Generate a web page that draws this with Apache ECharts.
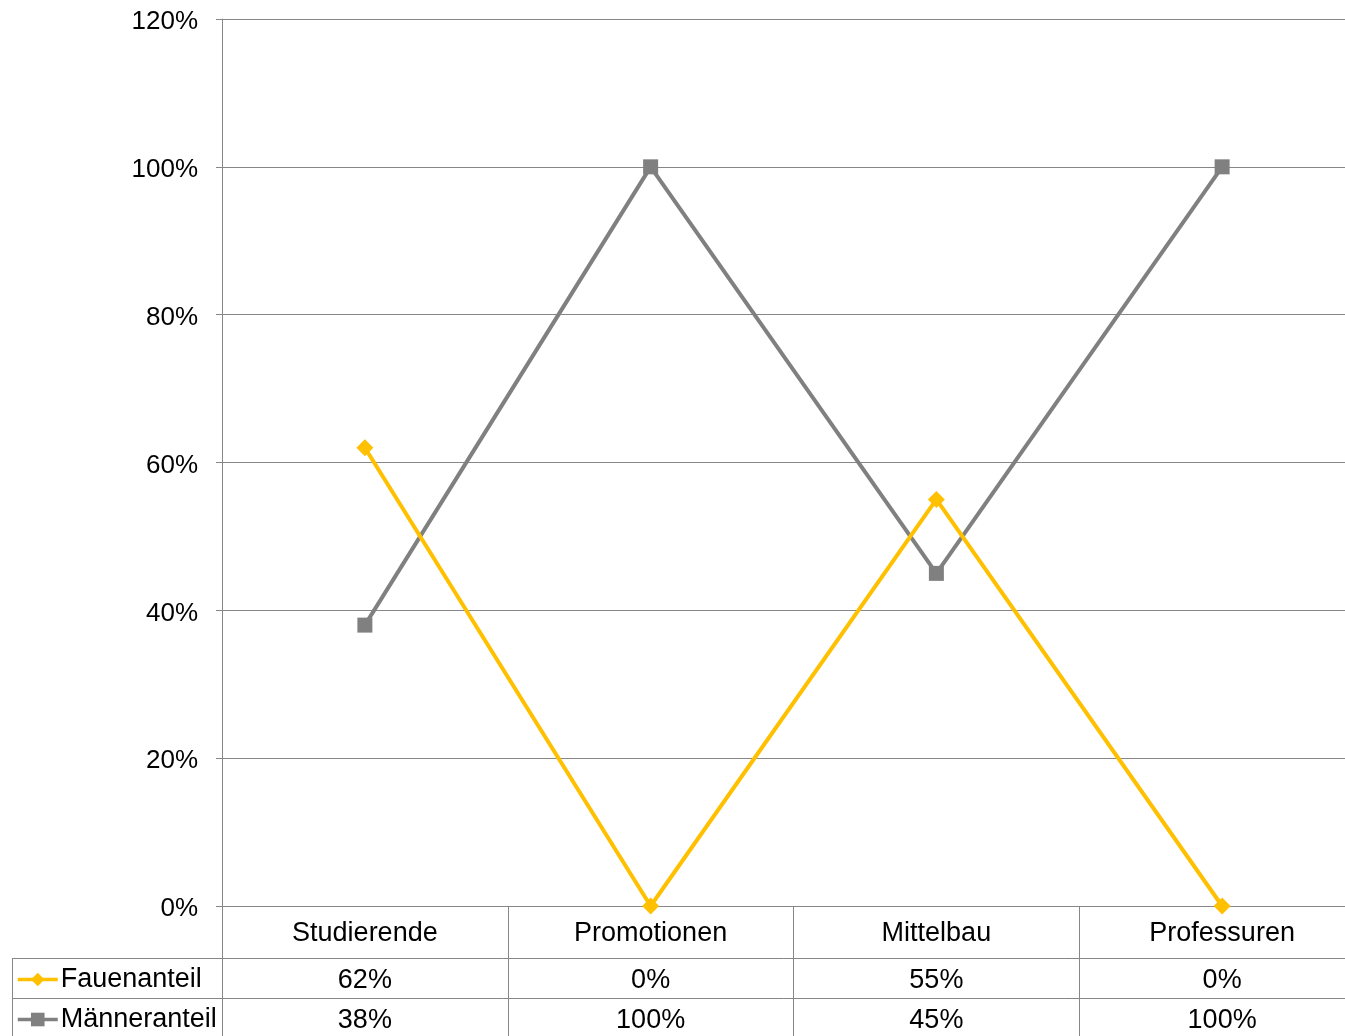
<!DOCTYPE html>
<html>
<head>
<meta charset="utf-8">
<script src="https://cdn.jsdelivr.net/npm/echarts@6/dist/echarts.min.js"></script>
<style>
  html, body { margin: 0; padding: 0; background: #fff; }
  #chart { width: 1345px; height: 1036px; }
</style>
</head>
<body>
<div id="chart"></div>
<script>
// Kategorien und Anteile (in Prozent)
const categories = ['Studierende', 'Promotionen', 'Mittelbau', 'Professuren'];
const frauenAnteil = [62, 0, 55, 0];
const maennerAnteil = [38, 100, 45, 100];
const seriesNames = ['Fauenanteil', 'Männeranteil'];
const yTicks = [0, 20, 40, 60, 80, 100, 120];

const FONT = '"Liberation Sans", Arial, sans-serif';
const GRID_COLOR = '#878787';
const YELLOW = '#FFC000';
const GRAY = '#808080';
const TABLE_FONT_SIZE = 27;

const pct = v => v + '%';

const chart = echarts.init(document.getElementById('chart'), null, { renderer: 'canvas' });

// gemeinsame Einstellungen der beiden Legendenzeilen in der Tabelle
const legendBase = {
  orient: 'horizontal',
  left: 16,
  padding: 0,
  itemWidth: 40,
  itemHeight: 17,
  selectedMode: false,
  lineStyle: { width: 3.5 },
  textStyle: { fontFamily: FONT, fontSize: TABLE_FONT_SIZE, color: '#000', padding: [0, 0, 0, -2] }
};

const option = {
  animation: false,
  backgroundColor: '#fff',
  textStyle: { fontFamily: FONT },
  grid: { left: 222, top: 19, width: 1143, bottom: 130, containLabel: false, outerBoundsMode: 'none' },
  legend: [
    Object.assign({}, legendBase, { top: 966, data: [seriesNames[0]] }),
    Object.assign({}, legendBase, { top: 1006, data: [seriesNames[1]] })
  ],
  xAxis: [
    {
      type: 'category',
      data: categories,
      boundaryGap: true,
      axisLine: { show: true, lineStyle: { color: GRID_COLOR, width: 1 } },
      axisTick: { show: true, length: 130, alignWithLabel: false, lineStyle: { color: GRID_COLOR, width: 1 } },
      axisLabel: { margin: 14, fontSize: TABLE_FONT_SIZE, color: '#000', fontFamily: FONT },
      splitLine: { show: false }
    },
    {
      type: 'category',
      position: 'bottom',
      offset: 52,
      data: frauenAnteil.map(pct),
      boundaryGap: true,
      axisLine: { show: true, lineStyle: { color: GRID_COLOR, width: 1 } },
      axisTick: { show: false },
      axisLabel: { margin: 9, fontSize: TABLE_FONT_SIZE, color: '#000', fontFamily: FONT },
      splitLine: { show: false }
    },
    {
      type: 'category',
      position: 'bottom',
      offset: 92,
      data: maennerAnteil.map(pct),
      boundaryGap: true,
      axisLine: { show: true, lineStyle: { color: GRID_COLOR, width: 1 } },
      axisTick: { show: false },
      axisLabel: { margin: 9, fontSize: TABLE_FONT_SIZE, color: '#000', fontFamily: FONT },
      splitLine: { show: false }
    }
  ],
  yAxis: {
    type: 'value',
    min: yTicks[0],
    max: yTicks[yTicks.length - 1],
    interval: 20,
    axisLine: { show: true, lineStyle: { color: GRID_COLOR, width: 1 } },
    axisTick: { show: true, length: 6, lineStyle: { color: GRID_COLOR, width: 1 } },
    axisLabel: {
      margin: 24,
      formatter: v => '{t|' + v + '%}',
      rich: { t: { fontSize: 26, color: '#000', fontFamily: FONT, padding: [6, 0, 0, 0] } }
    },
    splitLine: { show: true, lineStyle: { color: GRID_COLOR, width: 1 } }
  },
  series: [
    {
      name: seriesNames[0],
      type: 'line',
      xAxisIndex: 0,
      data: frauenAnteil,
      symbol: 'diamond',
      symbolSize: 17,
      lineStyle: { color: YELLOW, width: 4 },
      itemStyle: { color: YELLOW },
      z: 3
    },
    {
      name: seriesNames[1],
      type: 'line',
      xAxisIndex: 0,
      data: maennerAnteil,
      symbol: 'rect',
      symbolSize: 15,
      lineStyle: { color: GRAY, width: 4 },
      itemStyle: { color: GRAY },
      z: 2
    }
  ],
  // linker Teil der Datentabelle (Legendenspalte)
  graphic: [
    { type: 'line', shape: { x1: 12, y1: 958.5, x2: 222, y2: 958.5 }, style: { stroke: GRID_COLOR, lineWidth: 1 } },
    { type: 'line', shape: { x1: 12, y1: 998.5, x2: 222, y2: 998.5 }, style: { stroke: GRID_COLOR, lineWidth: 1 } },
    { type: 'line', shape: { x1: 12.5, y1: 958, x2: 12.5, y2: 1036 }, style: { stroke: GRID_COLOR, lineWidth: 1 } }
  ]
};

chart.setOption(option);
</script>
</body>
</html>
